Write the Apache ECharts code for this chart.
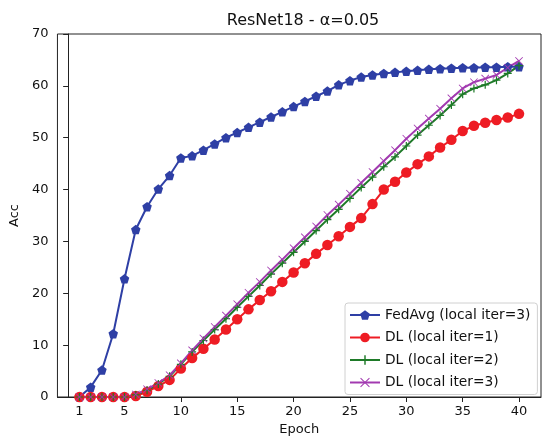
<!DOCTYPE html>
<html>
<head>
<meta charset="utf-8">
<script src="https://cdn.jsdelivr.net/npm/echarts@6/dist/echarts.min.js"></script>
<style>html,body{margin:0;padding:0;background:#fff}#c{width:546px;height:446px}</style>
</head>
<body>
<div id="c"></div>
<script>
const epochs = Array.from({length: 40}, (_, i) => i + 1);
const xTicks = [1, 5, 10, 15, 20, 25, 30, 35, 40];
const fedavg = [0, 1.9, 5.2, 12.2, 22.8, 32.3, 36.7, 40.1, 42.7, 46.1, 46.5, 47.6, 48.8, 50, 51, 52, 53, 54, 55, 56, 57, 58, 59, 60.2, 61, 61.7, 62.1, 62.4, 62.6, 62.8, 63, 63.2, 63.3, 63.4, 63.5, 63.5, 63.6, 63.6, 63.7, 63.7];
const dl1 = [0, 0, 0, 0, 0, 0.2, 1.0, 2.1, 3.3, 5.5, 7.5, 9.3, 11.1, 13, 15, 16.9, 18.7, 20.4, 22.2, 24, 25.8, 27.6, 29.3, 31, 32.8, 34.5, 37.2, 40, 41.5, 43.3, 44.9, 46.4, 48.1, 49.6, 51.3, 52.3, 52.9, 53.4, 53.9, 54.6];
const dl2 = [0, 0, 0, 0, 0, 0.4, 1.3, 2.5, 4, 6.3, 8.7, 10.9, 13, 15.1, 17.3, 19.4, 21.5, 23.7, 25.8, 27.9, 30, 32.1, 34.2, 36.2, 38.3, 40.4, 42.4, 44.4, 46.3, 48.4, 50.5, 52.4, 54.3, 56.3, 58.4, 59.5, 60.2, 61.1, 62.4, 63.9];
const dl3 = [0, 0, 0, 0, 0, 0.5, 1.5, 2.7, 4.2, 6.5, 9, 11.3, 13.5, 15.7, 17.9, 20.1, 22.2, 24.4, 26.5, 28.7, 30.8, 32.9, 35.1, 37.1, 39.2, 41.3, 43.4, 45.5, 47.6, 49.8, 51.8, 53.7, 55.6, 57.6, 59.5, 60.7, 61.4, 62.1, 63.5, 64.8];
const names = ['FedAvg (local iter=3)', 'DL (local iter=1)', 'DL (local iter=2)', 'DL (local iter=3)'];

const pentagon = 'path://M0,-10 L9.51,-3.09 L5.88,8.09 L-5.88,8.09 L-9.51,-3.09 Z';
const plus = 'path://M-1.5,-10 L1.5,-10 L1.5,-1.5 L10,-1.5 L10,1.5 L1.5,1.5 L1.5,10 L-1.5,10 L-1.5,1.5 L-10,1.5 L-10,-1.5 L-1.5,-1.5 Z';
const cross = 'path://M-8.5,-10 L0,-1.5 L8.5,-10 L10,-8.5 L1.5,0 L10,8.5 L8.5,10 L0,1.5 L-8.5,10 L-10,8.5 L-1.5,0 L-10,-8.5 Z';

function pair(arr) { return epochs.map((e, i) => [e, arr[i]]); }
function mk(name, arr, color, symbol, size) {
  return {
    name: name, type: 'line', data: pair(arr),
    symbol: symbol, symbolSize: size, showSymbol: true,
    lineStyle: {color: color, width: 2},
    itemStyle: {color: color},
    emphasis: {disabled: true}, animation: false
  };
}

const chart = echarts.init(document.getElementById('c'), null, {renderer: 'canvas'});
chart.setOption({
  backgroundColor: '#fff',
  animation: false,
  title: {
    text: 'ResNet18 - α=0.05', left: 298, top: 8, textAlign: 'center',
    textStyle: {fontFamily: 'DejaVu Sans', fontSize: 16, fontWeight: 'normal', color: '#111'}
  },
  grid: {left: 55, right: 5, top: 34, bottom: 49, show: true, borderColor: '#222', borderWidth: 1, backgroundColor: 'transparent'},
  xAxis: {
    type: 'value', min: -0.95, max: 41.95,
    name: 'Epoch', nameLocation: 'middle', nameGap: 26,
    nameTextStyle: {fontFamily: 'DejaVu Sans', fontSize: 13, color: '#111'},
    axisLine: {show: true, onZero: false, lineStyle: {color: '#222', width: 1}},
    axisTick: {show: true, customValues: xTicks, length: 5, lineStyle: {color: '#222'}},
    axisLabel: {customValues: xTicks, fontFamily: 'DejaVu Sans', fontSize: 13, color: '#111', margin: 8},
    splitLine: {show: false}
  },
  yAxis: {
    type: 'value', min: 0, max: 70, interval: 10,
    name: 'Acc', nameLocation: 'middle', nameGap: 34,
    nameTextStyle: {fontFamily: 'DejaVu Sans', fontSize: 13, color: '#111'},
    axisLine: {show: true, lineStyle: {color: '#222', width: 1}},
    axisTick: {show: true, length: 5, lineStyle: {color: '#222'}},
    axisLabel: {fontFamily: 'DejaVu Sans', fontSize: 13, color: '#111', margin: 9},
    splitLine: {show: false}
  },
  legend: {
    orient: 'vertical', left: 345, top: 303,
    data: names,
    itemWidth: 30, itemHeight: 12, itemGap: 8.5,
    padding: [5, 7, 5, 4],
    borderColor: '#d0d0d0', borderWidth: 1, borderRadius: 3,
    backgroundColor: 'rgba(255,255,255,0.85)',
    textStyle: {fontFamily: 'DejaVu Sans', fontSize: 13.8, color: '#111'}
  },
  series: [
    mk(names[0], fedavg, '#2e3fa5', pentagon, 9.5),
    mk(names[1], dl1, '#ee1c24', 'circle', 10.5),
    mk(names[2], dl2, '#1e7a28', plus, 8),
    mk(names[3], dl3, '#a23ab0', cross, 8)
  ]
});
</script>
</body>
</html>
